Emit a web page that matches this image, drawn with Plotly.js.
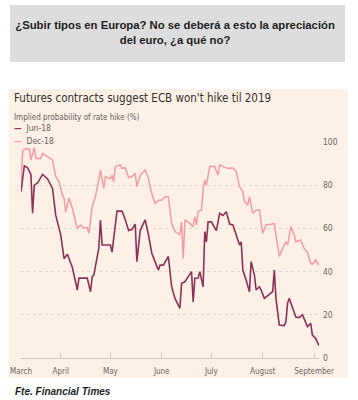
<!DOCTYPE html>
<html>
<head>
<meta charset="utf-8">
<script src="https://cdn.plot.ly/plotly-3.0.1.min.js"></script>
<style>html,body{margin:0;padding:0;background:#fff;}#chart{width:358px;height:400px;}</style>
</head>
<body>
<div id="chart"></div>
<script>
const datesJun18 = ["2017-03-08","2017-03-10","2017-03-12","2017-03-14","2017-03-15","2017-03-16","2017-03-18","2017-03-21","2017-03-24","2017-03-27","2017-03-29","2017-04-01","2017-04-03","2017-04-05","2017-04-08","2017-04-11","2017-04-12","2017-04-15","2017-04-17","2017-04-19","2017-04-20","2017-04-21","2017-04-24","2017-04-25","2017-04-26","2017-04-29","2017-05-01","2017-05-02","2017-05-04","2017-05-05","2017-05-08","2017-05-10","2017-05-12","2017-05-14","2017-05-16","2017-05-17","2017-05-19","2017-05-22","2017-05-24","2017-05-26","2017-05-30","2017-05-31","2017-06-02","2017-06-05","2017-06-07","2017-06-09","2017-06-12","2017-06-13","2017-06-15","2017-06-16","2017-06-19","2017-06-20","2017-06-21","2017-06-23","2017-06-24","2017-06-26","2017-06-27","2017-06-28","2017-06-29","2017-07-01","2017-07-04","2017-07-06","2017-07-08","2017-07-10","2017-07-12","2017-07-14","2017-07-16","2017-07-18","2017-07-19","2017-07-20","2017-07-22","2017-07-24","2017-07-25","2017-07-27","2017-07-28","2017-07-30","2017-07-31","2017-08-02","2017-08-05","2017-08-07","2017-08-08","2017-08-09","2017-08-11","2017-08-14","2017-08-15","2017-08-16","2017-08-17","2017-08-19","2017-08-21","2017-08-23","2017-08-25","2017-08-28","2017-08-30","2017-08-31","2017-09-02","2017-09-04"];
const valuesJun18 = [77,89,88,85,67,80,81,85,83,78.5,66,57,46,48,42,31.5,37,37,37,30.7,37.6,38.4,50.8,63.9,52.3,52.3,52.3,49,63,68,68,64,59,59.5,62,44.6,59,64,57,48.5,40.7,43,43,47,33,27.6,23,34.6,35.3,36.5,40,26,36.9,37,40,33,58.5,53.8,63,63,59,67,66,67.7,62,61.6,57,52.3,53.8,40.7,36,30.7,44.6,38.4,31.5,33,31.5,27.6,29.5,30.7,40.7,27.6,15.3,15,16.8,25.3,27.6,23,19,18.7,20,14.5,16,10.6,9,5.7];

const datesDec18 = ["2017-03-08","2017-03-09","2017-03-11","2017-03-13","2017-03-14","2017-03-16","2017-03-17","2017-03-20","2017-03-21","2017-03-24","2017-03-27","2017-03-29","2017-03-31","2017-04-02","2017-04-03","2017-04-04","2017-04-06","2017-04-08","2017-04-11","2017-04-13","2017-04-15","2017-04-17","2017-04-18","2017-04-20","2017-04-22","2017-04-25","2017-04-27","2017-04-28","2017-05-01","2017-05-02","2017-05-03","2017-05-04","2017-05-07","2017-05-08","2017-05-10","2017-05-12","2017-05-14","2017-05-16","2017-05-17","2017-05-19","2017-05-22","2017-05-24","2017-05-26","2017-05-28","2017-05-30","2017-06-01","2017-06-03","2017-06-05","2017-06-07","2017-06-09","2017-06-12","2017-06-13","2017-06-14","2017-06-15","2017-06-18","2017-06-20","2017-06-21","2017-06-22","2017-06-23","2017-06-25","2017-06-26","2017-06-27","2017-06-28","2017-06-30","2017-07-03","2017-07-05","2017-07-06","2017-07-08","2017-07-11","2017-07-14","2017-07-16","2017-07-18","2017-07-20","2017-07-21","2017-07-23","2017-07-24","2017-07-26","2017-07-28","2017-07-30","2017-08-01","2017-08-03","2017-08-06","2017-08-08","2017-08-09","2017-08-11","2017-08-13","2017-08-15","2017-08-16","2017-08-18","2017-08-20","2017-08-21","2017-08-24","2017-08-26","2017-08-28","2017-08-30","2017-08-31","2017-09-02","2017-09-04"];
const valuesDec18 = [82,96,97,96.8,91.7,97.4,92.4,92.4,94.7,93,91.7,84,81.6,75.5,74,67.4,74,69.3,60,61.6,60.3,60.3,57.7,70,74.7,87,78.5,84,83,84.7,81.6,88.6,89.4,87.8,88,83.5,84,85.5,79.3,84.7,87,83,76,71.6,73,73,74.7,74.7,62.3,58.5,57.2,63,46,63.9,62.3,60.8,65.4,61.6,67.7,68.5,77.8,82.4,80,88.6,88.6,84.7,89.4,88.6,87.8,88,86.3,79.3,77,72.4,70.8,74.7,67,68.5,68.5,57.7,61.6,61.9,62.3,57,47,50.8,53.8,52.3,60.8,57,53.8,54.6,50.8,49,43.8,43.4,45.4,42.9];

const xTickVals = ["2017-03-08","2017-04-01","2017-05-01","2017-06-01","2017-07-01","2017-08-01","2017-09-01"];
const xTickText = ["March","April","May","June","July","August","September"];
const yTickVals = [0,20,40,60,80,100];

const seriesNames = ["Jun-18","Dec-18"];
const seriesColors = ["#8a3259","#f39ca0"];

const narrow = "Liberation Sans Narrow, DejaVu Sans Condensed, Arial Narrow, sans-serif";

const traces = [
  {x: datesDec18, y: valuesDec18, name: seriesNames[1], type: "scatter", mode: "lines",
   line: {color: seriesColors[1], width: 1.5}, hoverinfo: "skip"},
  {x: datesJun18, y: valuesJun18, name: seriesNames[0], type: "scatter", mode: "lines",
   line: {color: seriesColors[0], width: 1.6}, hoverinfo: "skip"}
];

const layout = {
  width: 358, height: 400,
  margin: {l: 21, r: 39, t: 142, b: 42, pad: 0},
  paper_bgcolor: "#ffffff",
  plot_bgcolor: "rgba(0,0,0,0)",
  showlegend: false,
  title: {
    text: "<b>¿Subir tipos en Europa? No se deberá a esto la apreciación<br>del euro, ¿a qué no?</b>",
    font: {family: "Liberation Sans, Arial, sans-serif", size: 11.3, color: "#1e1e1e"},
    xref: "container", yref: "container", x: 0.489, y: 0.927, xanchor: "center", yanchor: "middle"
  },
  xaxis: {
    type: "date",
    range: ["2017-03-08", "2017-09-04"],
    tickmode: "array", tickvals: xTickVals, ticktext: xTickText,
    ticks: "inside", ticklen: 5, tickwidth: 1, tickcolor: "#cfc6bf",
    showline: true, linecolor: "#cfc6bf", linewidth: 1,
    showgrid: false, zeroline: false,
    ticklabelstandoff: 5,
    tickfont: {family: narrow, size: 8, color: "#6b6561"},
    fixedrange: true
  },
  yaxis: {
    range: [0, 100], side: "right",
    tickmode: "array", tickvals: yTickVals,
    ticks: "", showline: false, zeroline: false,
    showgrid: true, gridcolor: "#e3d9d1", griddash: "dot", gridwidth: 1,
    tickfont: {family: narrow, size: 8.5, color: "#6b6561"},
    ticklabelstandoff: 3,
    fixedrange: true
  },
  shapes: [
    {type: "rect", xref: "paper", yref: "paper", x0: -0.0369, x1: 1.0873, y0: 1.3704, y1: 1.6343,
     fillcolor: "#dddddd", line: {width: 0}, layer: "below"},
    {type: "rect", xref: "paper", yref: "paper", x0: -0.0403, x1: 1.0973, y0: -0.0926, y1: 1.2454,
     fillcolor: "#fdf0e6", line: {width: 0}, layer: "below"}
  ],
  annotations: [
    {text: "Futures contracts suggest ECB won't hike til 2019", xref: "paper", yref: "paper",
     x: -0.03, y: 1.2037, xanchor: "left", yanchor: "middle", showarrow: false,
     font: {family: narrow, size: 11.5, color: "#33302e"}},
    {text: "Implied probability of rate hike (%)", xref: "paper", yref: "paper",
     x: -0.03, y: 1.1157, xanchor: "left", yanchor: "middle", showarrow: false,
     font: {family: narrow, size: 8, color: "#66605c"}},
    {text: '<span style="color:' + seriesColors[0] + '"><b>—</b></span>  ' + seriesNames[0], xref: "paper", yref: "paper",
     x: -0.03, y: 1.0648, xanchor: "left", yanchor: "middle", showarrow: false,
     font: {family: narrow, size: 8.5, color: "#66605c"}},
    {text: '<span style="color:' + seriesColors[1] + '"><b>—</b></span>  ' + seriesNames[1], xref: "paper", yref: "paper",
     x: -0.03, y: 1.0046, xanchor: "left", yanchor: "middle", showarrow: false,
     font: {family: narrow, size: 8.5, color: "#66605c"}},
    {text: "<b><i>Fte. Financial Times</i></b>", xref: "paper", yref: "paper",
     x: -0.027, y: -0.1574, xanchor: "left", yanchor: "middle", showarrow: false,
     font: {family: "Liberation Sans, Arial, sans-serif", size: 10, color: "#1e1e1e"}}
  ]
};

Plotly.newPlot("chart", traces, layout, {staticPlot: true, displayModeBar: false});
</script>
</body>
</html>
